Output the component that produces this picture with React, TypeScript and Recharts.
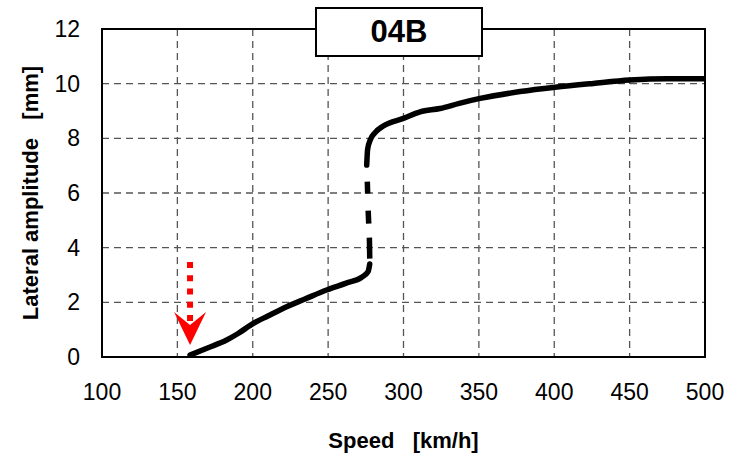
import {
  ComposedChart,
  Line,
  XAxis,
  YAxis,
  CartesianGrid,
  ReferenceLine,
  ReferenceDot,
  ReferenceArea,
  Label,
} from 'recharts';

const xTicks = [100, 150, 200, 250, 300, 350, 400, 450, 500];
const yTicks = [0, 2, 4, 6, 8, 10, 12];

// speed [km/h] vs lateral amplitude [mm]
const lowerBranch = [
  { x: 158.4, y: 0.07 },
  { x: 170, y: 0.33 },
  { x: 182.7, y: 0.62 },
  { x: 190, y: 0.85 },
  { x: 200.4, y: 1.23 },
  { x: 210, y: 1.5 },
  { x: 222.5, y: 1.84 },
  { x: 235, y: 2.13 },
  { x: 249, y: 2.45 },
  { x: 262, y: 2.7 },
  { x: 272.3, y: 2.92 },
  { x: 276.5, y: 3.12 },
  { x: 277.6, y: 3.4 },
];

const jumpBranch = [
  { x: 275.8, y: 7.0 },
  { x: 276.0, y: 6.4 },
  { x: 276.6, y: 5.3 },
  { x: 277.4, y: 4.3 },
  { x: 277.7, y: 3.3 },
];

const upperBranch = [
  { x: 275.6, y: 7.02 },
  { x: 276.2, y: 7.6 },
  { x: 278, y: 7.95 },
  { x: 281, y: 8.2 },
  { x: 286.6, y: 8.45 },
  { x: 299.9, y: 8.73 },
  { x: 311, y: 8.97 },
  { x: 324.2, y: 9.09 },
  { x: 337, y: 9.28 },
  { x: 350.8, y: 9.46 },
  { x: 377.3, y: 9.71 },
  { x: 400.5, y: 9.87 },
  { x: 425.9, y: 10.01 },
  { x: 450.2, y: 10.13 },
  { x: 474.6, y: 10.18 },
  { x: 500, y: 10.18 },
];

const onsetSpeed = 158.4;
const arrowTop = 3.48;
const arrowBottom = 1.3;
const arrowTip = 0.44;

const FONT = '"Liberation Sans", Arial, sans-serif';

const ArrowHead = (props: any) => {
  const { cx, cy } = props;
  return (
    <polygon
      points={`${cx},${cy} ${cx + 16},${cy - 33} ${cx},${cy - 20} ${cx - 16},${cy - 33}`}
      fill="#ff0000"
    />
  );
};

export default function App() {
  return (
    <div style={{ position: 'relative', width: 730, height: 454, fontFamily: FONT }}>
      <style>{`body{margin:0}`}</style>
      <ComposedChart
        width={730}
        height={454}
        margin={{ top: 29, right: 25, bottom: 0, left: 0 }}
      >
        <CartesianGrid stroke="#555" strokeWidth={1.3} strokeDasharray="7 5" />
        <XAxis
          type="number"
          dataKey="x"
          domain={[100, 500]}
          ticks={xTicks}
          allowDataOverflow
          height={97}
          axisLine={{ stroke: '#000', strokeWidth: 2 }}
          tickLine={false}
          tickSize={6}
          tickMargin={21}
          tick={{ fill: '#000', fontSize: 23, fontFamily: FONT }}
        >
          <Label
            value={'Speed\u00a0\u00a0\u00a0[km/h]'}
            position="insideBottom"
            offset={6}
            style={{ fill: '#000', fontSize: 22, fontWeight: 'bold', fontFamily: FONT }}
          />
        </XAxis>
        <YAxis
          type="number"
          domain={[0, 12]}
          ticks={yTicks}
          allowDataOverflow
          width={102}
          axisLine={{ stroke: '#000', strokeWidth: 2 }}
          tickLine={false}
          tickSize={6}
          tickMargin={16}
          tick={{ fill: '#000', fontSize: 23, fontFamily: FONT }}
        >
          <Label
            value={'Lateral amplitude\u00a0\u00a0\u00a0[mm]'}
            angle={-90}
            position="insideLeft"
            offset={30}
            style={{
              fill: '#000',
              fontSize: 22,
              fontWeight: 'bold',
              fontFamily: FONT,
              textAnchor: 'middle',
            }}
          />
        </YAxis>
        <ReferenceArea
          x1={100}
          x2={500}
          y1={0}
          y2={12}
          fill="none"
          fillOpacity={0}
          stroke="#000"
          strokeWidth={2}
        />
        <ReferenceLine
          segment={[
            { x: onsetSpeed, y: arrowTop },
            { x: onsetSpeed, y: arrowBottom },
          ]}
          stroke="#ff0000"
          strokeWidth={6}
          strokeDasharray="6 7.3"
        />
        <ReferenceDot x={onsetSpeed} y={arrowTip} r={1} shape={ArrowHead} />
        <Line
          data={lowerBranch}
          dataKey="y"
          type="monotone"
          stroke="#000"
          strokeWidth={5.5}
          strokeLinecap="round"
          strokeLinejoin="round"
          dot={false}
          activeDot={false}
          isAnimationActive={false}
        />
        <Line
          data={jumpBranch}
          dataKey="y"
          type="linear"
          stroke="#000"
          strokeWidth={5.5}
          strokeLinecap="butt"
          strokeDasharray="0 16 12 17 13 14 21 20"
          dot={false}
          activeDot={false}
          isAnimationActive={false}
        />
        <Line
          data={upperBranch}
          dataKey="y"
          type="monotone"
          stroke="#000"
          strokeWidth={5.5}
          strokeLinecap="round"
          strokeLinejoin="round"
          dot={false}
          activeDot={false}
          isAnimationActive={false}
        />
      </ComposedChart>
      <div
        style={{
          position: 'absolute',
          left: 315,
          top: 7,
          width: 168,
          height: 50,
          boxSizing: 'border-box',
          border: '2px solid #000',
          background: '#fff',
          display: 'flex',
          alignItems: 'center',
          justifyContent: 'center',
          fontSize: 31,
          fontWeight: 'bold',
          fontFamily: FONT,
        }}
      >
        04B
      </div>
    </div>
  );
}
